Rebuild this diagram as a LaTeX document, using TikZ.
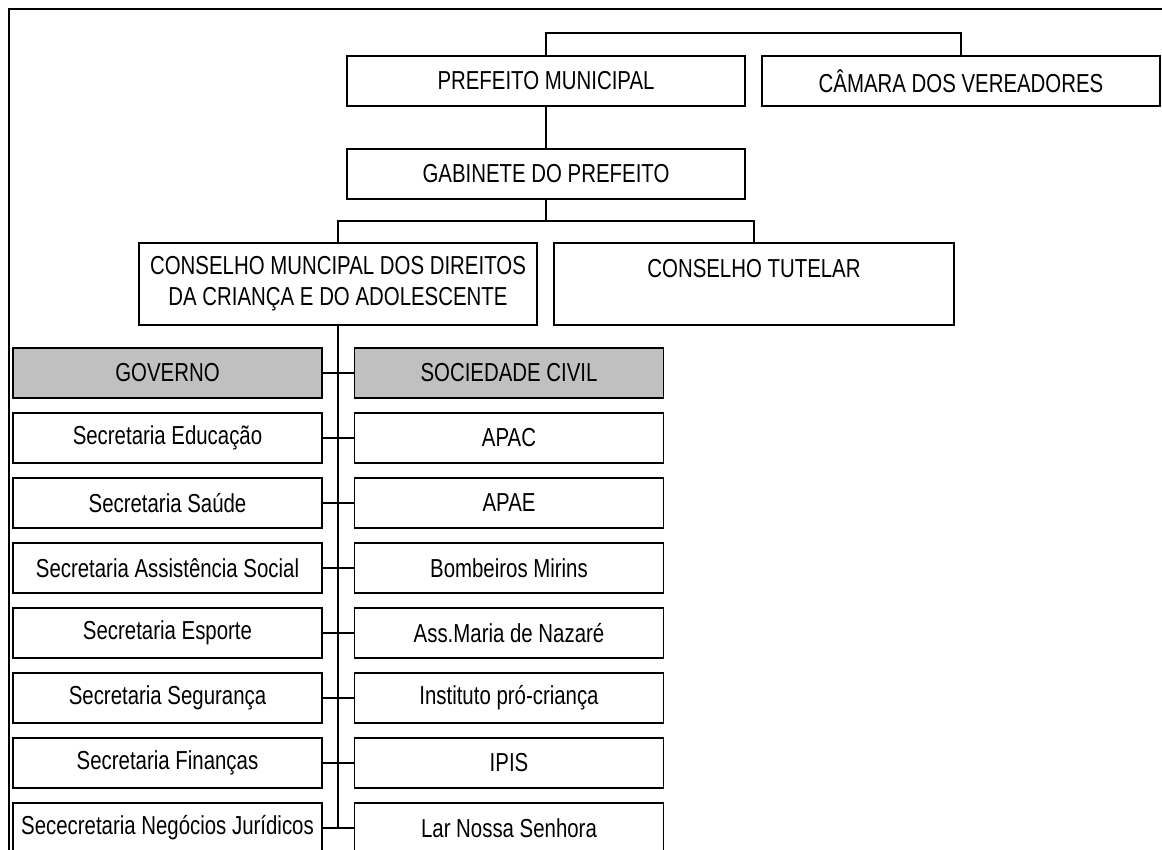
\documentclass[tikz,border=0pt]{standalone}
\usepackage{fontspec}
\setmainfont[FakeStretch=0.785]{Liberation Sans}
\definecolor{hdrgray}{RGB}{192,192,192}
\tikzset{
  box/.style={draw=black, line width=1.2pt, rectangle, inner sep=0pt, align=center,
    font=\fontsize{26}{31}\selectfont},
  topbox/.style={box, minimum width=398pt, minimum height=50pt},
  rowbox/.style={box, minimum width=309pt, minimum height=50pt},
  hdrbox/.style={rowbox, fill=hdrgray},
  link/.style={draw=black, line width=1.2pt},
  frameline/.style={draw=black, line width=2pt}
}
\begin{document}
\begin{tikzpicture}[x=1pt, y=-1pt]
\useasboundingbox (0,0) rectangle (1162,849);
\clip (0,0) rectangle (1162,849);
\fill[white] (0,0) rectangle (1162,849);
% outer frame (top and left edges)
\draw[frameline] (9,860) -- (9,9) -- (1170,9);
% top level
\node[topbox] (pm) at (546,81) {PREFEITO MUNICIPAL};
\node[topbox] (cv) at (961,81) {CÂMARA DOS VEREADORES};
\node[topbox] (gab) at (546,174) {GABINETE DO PREFEITO};
\node[box, minimum width=398pt, minimum height=82pt] (cm) at (338,284)
  {CONSELHO MUNCIPAL DOS DIREITOS\\DA CRIANÇA E DO ADOLESCENTE};
\node[box, minimum width=400pt, minimum height=82pt] (ct) at (754,284)
  {CONSELHO TUTELAR\\~};
% rows
\node[hdrbox] (l0) at (167.5,373) {GOVERNO};
\node[hdrbox] (r0) at (509,373) {SOCIEDADE CIVIL};
\node[rowbox] (l1) at (167.5,438) {Secretaria Educação};
\node[rowbox] (r1) at (509,438) {APAC};
\node[rowbox] (l2) at (167.5,503) {Secretaria Saúde};
\node[rowbox] (r2) at (509,503) {APAE};
\node[rowbox] (l3) at (167.5,568) {Secretaria Assistência Social};
\node[rowbox] (r3) at (509,568) {Bombeiros Mirins};
\node[rowbox] (l4) at (167.5,633) {Secretaria Esporte};
\node[rowbox] (r4) at (509,633) {Ass.Maria de Nazaré};
\node[rowbox] (l5) at (167.5,698) {Secretaria Segurança};
\node[rowbox] (r5) at (509,698) {Instituto pró-criança};
\node[rowbox] (l6) at (167.5,763) {Secretaria Finanças};
\node[rowbox] (r6) at (509,763) {IPIS};
\node[rowbox] (l7) at (167.5,828) {Sececretaria Negócios Jurídicos};
\node[rowbox] (r7) at (509,828) {Lar Nossa Senhora};
% connectors
\coordinate (tb) at (546,33);
\draw[link] (pm.north) -- (tb) -| (cv.north);
\draw[link] (pm.south) -- (gab.south |- gab.north);
\coordinate (mb) at (546,221);
\draw[link] (gab.south) -- (mb);
\draw[link] (cm.north) |- (mb) -| (ct.north);
\coordinate (spend) at (cm.south |- l7.east);
\draw[link] (cm.south) -- (spend);
\foreach \i in {0,...,7} {
  \draw[link] (l\i.east) -- (r\i.west);
}
\end{tikzpicture}
\end{document}
